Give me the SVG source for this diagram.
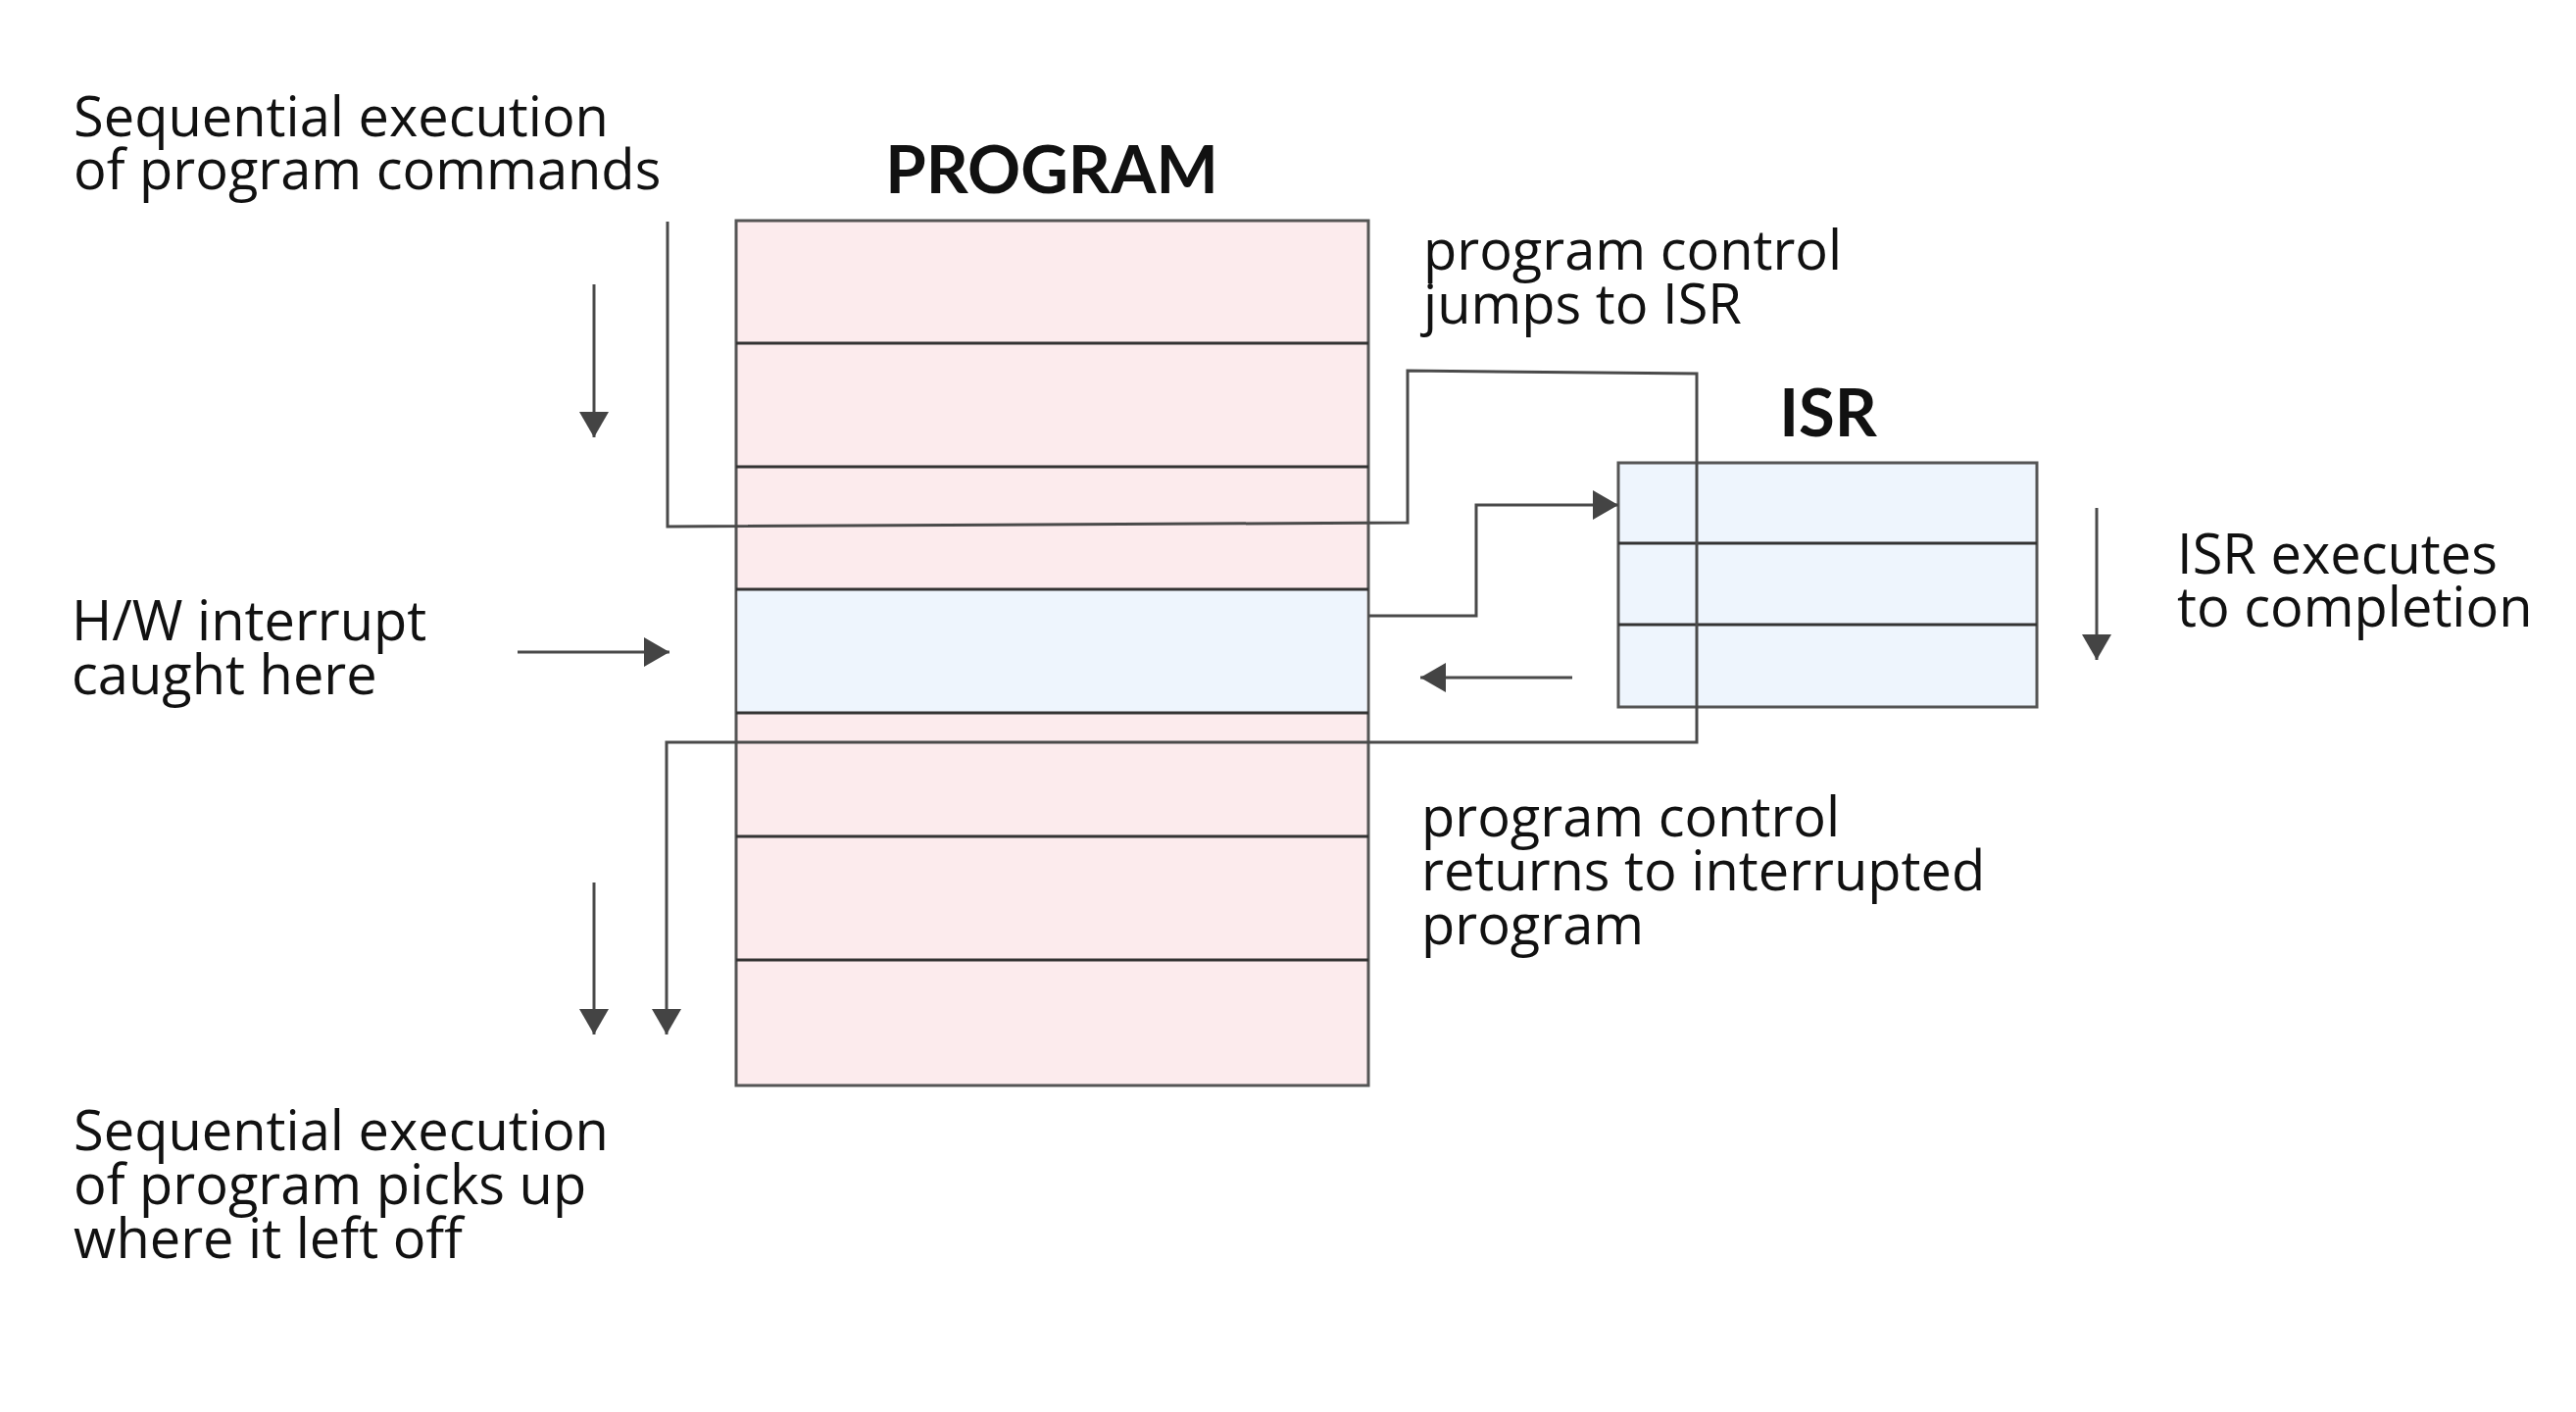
<svg xmlns="http://www.w3.org/2000/svg" width="2628" height="1440" viewBox="0 0 2628 1440">
<style>
.lbl{font-family:"Open Sans","Noto Sans","Liberation Sans",sans-serif;font-size:56px;fill:#111}
.ttl{font-family:Lato,"Open Sans","Liberation Sans",sans-serif;font-size:67px;font-weight:bold;fill:#111;text-anchor:middle}
.box{stroke:#555;stroke-width:3}
.row{stroke:#333;stroke-width:3}
.con{fill:none;stroke:#4a4a4a;stroke-width:3}
</style>
<defs>
<marker id="ah" markerUnits="userSpaceOnUse" markerWidth="30" markerHeight="30" viewBox="0 0 26 30" refX="26" refY="15" orient="auto">
<path d="M0,0 L26,15 L0,30 Z" fill="#444"/>
</marker>
</defs>
<rect width="2628" height="1440" fill="#fff"/>
<g id="program">
<rect class="box" x="751" y="225" width="645" height="882" fill="#fcebed"/>
<rect x="752.5" y="601" width="642" height="126" fill="#eef5fd"/>
<line class="row" x1="751" y1="350" x2="1396" y2="350"/>
<line class="row" x1="751" y1="476" x2="1396" y2="476"/>
<line class="row" x1="751" y1="601" x2="1396" y2="601"/>
<line class="row" x1="751" y1="727" x2="1396" y2="727"/>
<line class="row" x1="751" y1="853" x2="1396" y2="853"/>
<line class="row" x1="751" y1="979" x2="1396" y2="979"/>
<text class="ttl" x="1073" y="197">PROGRAM</text>
</g>
<g id="isr">
<rect class="box" x="1651" y="472" width="427" height="249" fill="#eef5fd"/>
<line class="row" x1="1651" y1="554" x2="2078" y2="554"/>
<line class="row" x1="1651" y1="637" x2="2078" y2="637"/>
<text class="ttl" x="1865" y="445">ISR</text>
</g>
<g id="connectors">
<path class="con" d="M681,226 L681,537 L1436,533 L1436,378 L1731,381 L1731,757 L680,757 L680,1055" marker-end="url(#ah)"/>
<path class="con" d="M606,290 L606,446" marker-end="url(#ah)"/>
<path class="con" d="M606,900 L606,1055" marker-end="url(#ah)"/>
<path class="con" d="M528,665 L683,665" marker-end="url(#ah)"/>
<path class="con" d="M1396,628 L1506,628 L1506,515 L1651,515" marker-end="url(#ah)"/>
<path class="con" d="M1604,691 L1449,691" marker-end="url(#ah)"/>
<path class="con" d="M2139,518 L2139,673" stroke-width="2.5" marker-end="url(#ah)"/>
</g>
<g id="labels">
<text class="lbl" x="75" y="139">Sequential execution<tspan x="75" dy="54">of program commands</tspan></text>
<text class="lbl" x="1452" y="275">program control<tspan x="1452" dy="55">jumps to ISR</tspan></text>
<text class="lbl" x="2221" y="585">ISR executes<tspan x="2221" dy="54">to completion</tspan></text>
<text class="lbl" x="73" y="653">H/W interrupt<tspan x="73" dy="55">caught here</tspan></text>
<text class="lbl" x="1450" y="853">program control<tspan x="1450" dy="55">returns to interrupted</tspan><tspan x="1450" dy="55">program</tspan></text>
<text class="lbl" x="75" y="1173">Sequential execution<tspan x="75" dy="55">of program picks up</tspan><tspan x="75" dy="55">where it left off</tspan></text>
</g>
</svg>
